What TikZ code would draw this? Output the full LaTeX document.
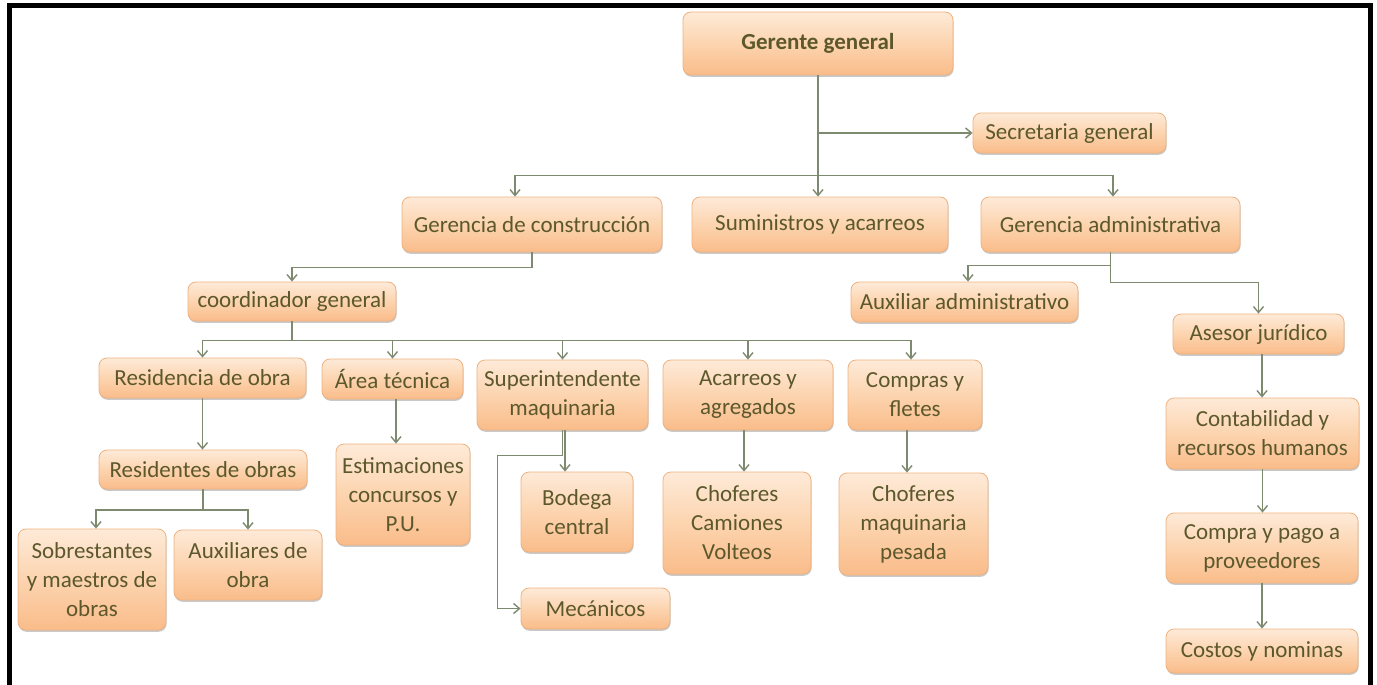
\documentclass[tikz,border=0pt]{standalone}
\usepackage{fontspec}
\setmainfont{Carlito}
\usetikzlibrary{arrows.meta,shadows,calc}
\definecolor{boxtop}{RGB}{254,234,216}
\definecolor{boxmid}{RGB}{252,212,175}
\definecolor{boxbot}{RGB}{250,188,138}
\definecolor{boxline}{RGB}{238,178,128}
\definecolor{txt}{RGB}{92,88,44}
\definecolor{conncol}{RGB}{125,138,112}
\begin{document}
\begin{tikzpicture}[x=1pt,y=-1pt,
  box/.style={rounded corners=8pt, draw=boxline, line width=0.8pt,
    top color=boxtop, bottom color=boxbot, middle color=boxmid,
    drop shadow={shadow xshift=0.6pt, shadow yshift=-1.8pt, opacity=0.35, fill=black!60},
    text=txt, font=\fontsize{23}{29}\selectfont, align=center, inner sep=0pt},
  conn/.style={draw=conncol, line width=1.4pt, -{Straight Barb[length=6pt,width=10pt]}},
  line/.style={draw=conncol, line width=1.4pt}
]
\useasboundingbox (0,0) rectangle (1377,685);
\fill[white] (0,0) rectangle (1377,685);
\draw[line width=4.6pt, line join=miter] (9.5,690) -- (9.5,5.7) -- (1370.5,5.7) -- (1370.5,690);

% nodes
\node[box, minimum width=270pt, minimum height=63pt] (gg) at (818,43.5) {\textbf{Gerente general}};
\node[box, minimum width=193pt, minimum height=40pt] (sg) at (1069.5,133) {Secretaria general};
\node[box, minimum width=260pt, minimum height=55pt] (gc) at (532,224.5) {Gerencia de construcción};
\node[box, minimum width=256pt, minimum height=55pt] (sa) at (820,224.5) {Suministros y acarreos};
\node[box, minimum width=259pt, minimum height=55pt] (ga) at (1110.5,224.5) {Gerencia administrativa};
\node[box, minimum width=208pt, minimum height=39pt] (cg) at (292,301.5) {coordinador general};
\node[box, minimum width=227pt, minimum height=40pt] (aa) at (964.5,302) {Auxiliar administrativo};
\node[box, minimum width=171pt, minimum height=40pt] (aj) at (1258.5,334) {Asesor jurídico};
\node[box, minimum width=207pt, minimum height=40pt] (ro) at (202.5,378) {Residencia de obra};
\node[box, minimum width=141pt, minimum height=40pt] (at) at (392.5,379) {Área técnica};
\node[box, minimum width=171pt, minimum height=70pt] (sm) at (562.5,395) {Superintendente\\maquinaria};
\node[box, minimum width=170pt, minimum height=70pt] (ag) at (748,395) {Acarreos y\\agregados};
\node[box, minimum width=134pt, minimum height=70pt] (cf) at (915,395) {Compras y\\fletes};
\node[box, minimum width=193pt, minimum height=71pt] (crh) at (1262.5,433.5) {Contabilidad y\\recursos humanos};
\node[box, minimum width=208pt, minimum height=39pt] (rdo) at (203,469.5) {Residentes de obras};
\node[box, minimum width=134pt, minimum height=101pt] (est) at (403,494.5) {Estimaciones\\concursos y\\P.U.};
\node[box, minimum width=112pt, minimum height=80pt] (bc) at (577,512) {Bodega\\central};
\node[box, minimum width=148pt, minimum height=102pt] (ccv) at (737,523) {Choferes\\Camiones\\Volteos};
\node[box, minimum width=149pt, minimum height=102pt] (cmp) at (913.5,524) {Choferes\\maquinaria\\pesada};
\node[box, minimum width=192pt, minimum height=70pt] (cpp) at (1262,548) {Compra y pago a\\proveedores};
\node[box, minimum width=148pt, minimum height=101pt] (so) at (92,579.5) {Sobrestantes\\y maestros de\\obras};
\node[box, minimum width=148pt, minimum height=70pt] (ao) at (248,565) {Auxiliares de\\obra};
\node[box, minimum width=149pt, minimum height=41pt] (mec) at (595.5,608.5) {Mecánicos};
\node[box, minimum width=192pt, minimum height=44pt] (cn) at (1262,651) {Costos y nominas};

% connectors from Gerente general
\coordinate (b1) at ($(gg.south)+(0,100)$);
\draw[conn] (gg.south) -- (gg.south |- sa.north);
\draw[conn] (gg.south |- sg.west) -- (sg.west);
\draw[conn] (b1) -| ($(gc.north)+(-17,0)$);
\draw[conn] (b1) -| ($(ga.north)+(2.5,0)$);

% Gerencia de construccion -> coordinador
\draw[conn] (gc.south) -- ++(0,15) -| (cg.north);

% coordinador -> row
\coordinate (b2) at ($(cg.south)+(0,19)$);
\draw[line] (cg.south) -- (b2);
\draw[conn] (b2) -| (ro.north);
\draw[conn] (b2) -| (at.north);
\draw[conn] (b2) -| (sm.north);
\draw[conn] (b2) -| (ag.north);
\draw[conn] (b2) -| ($(cf.north)+(-4,0)$);

% Residencia
\draw[conn] (ro.south) -- (ro.south |- rdo.north);
\coordinate (b3) at ($(rdo.south)+(0,20.5)$);
\draw[line] (rdo.south) -- (b3);
\draw[conn] (b3) -| ($(so.north)+(4,0)$);
\draw[conn] (b3) -| (ao.north);

% Area tecnica
\draw[conn] ([xshift=3.5pt]at.south) -- ([xshift=3.5pt]at.south |- est.north);

% Superintendente
\draw[conn] ([xshift=2.5pt]sm.south) -- ([xshift=2.5pt]sm.south |- bc.north);
\draw[conn] (sm.south) -- ++(0,25) -- ++(-65,0) |- (mec.west);

% Acarreos, Compras
\draw[conn] ([xshift=-4pt]ag.south) -- ([xshift=-4pt]ag.south |- ccv.north);
\draw[conn] ([xshift=-8pt]cf.south) -- ([xshift=-8pt]cf.south |- cmp.north);

% Gerencia administrativa
\draw[conn] (ga.south) -- ++(0,13) -| ($(aa.north)+(3.5,0)$);
\draw[conn] (ga.south) -- ++(0,30) -| (aj.north);
\draw[conn] ([xshift=3.5pt]aj.south) -- ([xshift=3.5pt]aj.south |- crh.north);
\draw[conn] (crh.south) -- (crh.south |- cpp.north);
\draw[conn] (cpp.south) -- (cpp.south |- cn.north);
\end{tikzpicture}
\end{document}
